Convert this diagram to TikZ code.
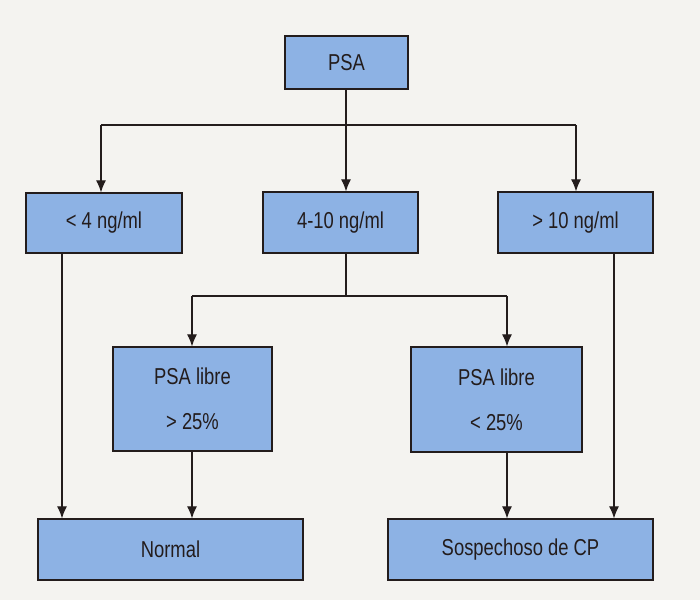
\documentclass[tikz,border=0pt]{standalone}
\usepackage{fontspec}
\setmainfont[FakeStretch=0.8]{Liberation Sans}
\usetikzlibrary{arrows.meta}
\definecolor{boxblue}{RGB}{141,178,228}
\definecolor{paper}{RGB}{244,243,240}
\definecolor{ink}{RGB}{35,28,28}
\begin{document}
\begin{tikzpicture}[x=1pt, y=-1pt,
    box_style/.style={draw=ink, line width=1.3pt, fill=boxblue, inner sep=0pt, text=ink,
        align=center, font=\fontsize{23}{45}\selectfont},
    line_style/.style={draw=ink, line width=1.1pt},
    arrow_style/.style={line_style, -{Latex[length=12pt,width=10pt]}}
]
\useasboundingbox[fill=paper] (0,0) rectangle (700,600);
% Cajas
\node[box_style, minimum width=123pt, minimum height=53pt] (psa) at (346.5, 62.5) {PSA};
\node[box_style, minimum width=156pt, minimum height=60pt] (low) at (104, 223) {< 4 ng/ml};
\node[box_style, minimum width=155pt, minimum height=61pt] (mid) at (340.5, 222.5) {4-10 ng/ml};
\node[box_style, minimum width=155pt, minimum height=61pt] (high) at (575.5, 222.5) {> 10 ng/ml};
\node[box_style, minimum width=159pt, minimum height=104pt] (libre_hi) at (192.5, 399) {PSA libre\\> 25\%};
\node[box_style, minimum width=171pt, minimum height=105pt] (libre_lo) at (496.5, 399.5) {PSA libre\\< 25\%};
\node[box_style, minimum width=265pt, minimum height=61pt] (normal) at (170.5, 549.5) {Normal};
\node[box_style, minimum width=265pt, minimum height=61pt] (sosp) at (520.5, 549.5) {Sospechoso de CP};
% Lineas
\coordinate (bus_l) at (101, 125);
\coordinate (bus_m) at (346, 125);
\coordinate (bus_r) at (576, 125);
\coordinate (split_l) at (192, 296);
\coordinate (split_m) at (346, 296);
\coordinate (split_r) at (507, 296);
\coordinate (drop_l) at (62, 0);
\coordinate (drop_r) at (614, 0);
\draw[line_style] (psa.south -| bus_m) -- (bus_m);
\draw[line_style] (bus_l) -- (bus_r);
\foreach \c/\t in {bus_l/low, bus_m/mid, bus_r/high} {
    \draw[arrow_style] (\c) -- (\c |- \t.north);
}
\draw[line_style] (mid.south -| split_m) -- (split_m);
\draw[line_style] (split_l) -- (split_r);
\foreach \c/\t in {split_l/libre_hi, split_r/libre_lo} {
    \draw[arrow_style] (\c) -- (\c |- \t.north);
}
\draw[arrow_style] (low.south -| drop_l) -- (normal.north -| drop_l);
\draw[arrow_style] (libre_hi.south -| split_l) -- (normal.north -| split_l);
\draw[arrow_style] (libre_lo.south -| split_r) -- (sosp.north -| split_r);
\draw[arrow_style] (high.south -| drop_r) -- (sosp.north -| drop_r);
\end{tikzpicture}
\end{document}
